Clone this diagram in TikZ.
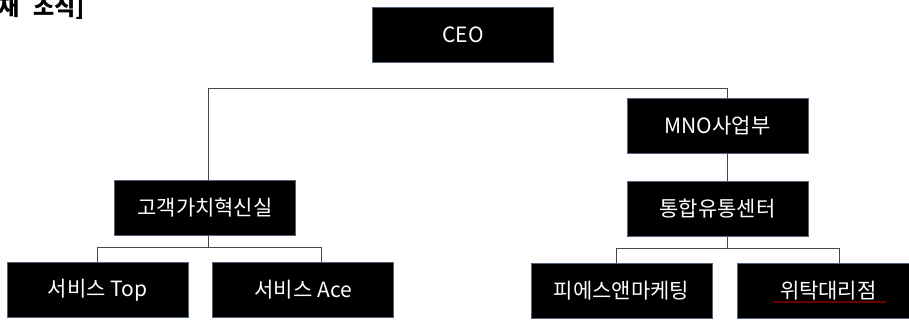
\documentclass[tikz,border=0pt]{standalone}
\usepackage{fontspec}
\newfontfamily\krfont{Noto Sans CJK KR}
\usetikzlibrary{positioning}
\usetikzlibrary{decorations.pathmorphing}
\definecolor{boxedge}{RGB}{84,98,118}
\definecolor{wirecol}{RGB}{70,70,70}
\tikzset{
    orgbox/.style={rectangle, fill=black, draw=boxedge, line width=0.8pt, text=white,
        minimum width=181pt, minimum height=55pt, inner sep=0pt,
        font=\krfont\fontsize{21}{25}\selectfont},
    wire/.style={draw=wirecol, line width=0.9pt}
}
\begin{document}
\begin{tikzpicture}[x=1pt, y=-1pt]
        \useasboundingbox (0,0) rectangle (909,320);
        \clip (0,0) rectangle (909,320);
        \node [anchor=base east, font=\krfont\bfseries\fontsize{23}{27}\selectfont, inner sep=0pt] (title) at (85,16) {재\kern8pt\ 조직]};
        \node [orgbox] (ceo) at (463,34.5) {CEO};
        \node [orgbox] (mno) at (717.5,126) {MNO사업부};
        \node [below=27pt of mno, orgbox] (center) {통합유통센터};
        \node [orgbox] (gogaek) at (205,207.5) {고객가치혁신실};
        \node [orgbox] (stop) at (97.5,290) {서비스 Top};
        \node [right=24pt of stop, orgbox] (sace) {서비스 Ace};
        \node [orgbox] (psn) at (621.5,291) {피에스앤마케팅};
        \node [right=25pt of psn, orgbox] (agency) {위탁대리점};
        \coordinate (busL) at (208.5,88);
        \coordinate (busR) at (727.5,88);
        \coordinate (jL) at (208.5,247);
        \coordinate (jR) at (727.5,248);
        \draw [wire] (gogaek.north -| busL) -- (busL) -- (busR) -- (mno.north -| busR);
        \draw [wire] (mno.south -| busR) -- (center.north -| busR);
        \draw [wire] (gogaek.south -| jL) -- (jL);
        \draw [wire] (stop.north) |- ([xshift=18.5pt]sace.north |- jL) -- ([xshift=18.5pt]sace.north);
        \draw [wire] (center.south -| jR) -- (jR);
        \draw [wire] ([xshift=-5.5pt]psn.north) |- ([xshift=11pt]agency.north |- jR) -- ([xshift=11pt]agency.north);
        \draw [red!80!black, line width=0.6pt, decorate, decoration={snake, amplitude=0.8pt, segment length=3pt}]
            ([xshift=-55pt, yshift=-11pt]agency.center) -- ([xshift=58pt, yshift=-11pt]agency.center);
\end{tikzpicture}
\end{document}
